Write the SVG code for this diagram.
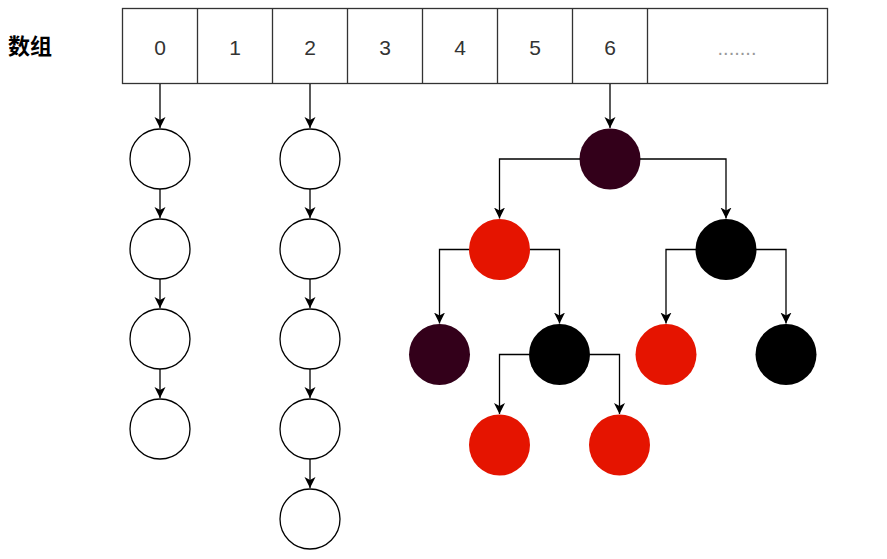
<svg xmlns="http://www.w3.org/2000/svg" width="887" height="559" viewBox="0 0 887 559">
<style>
.cell{fill:#ffffff;stroke:#333333;stroke-width:1.3}
.idx{font-family:"Liberation Sans",Arial,sans-serif;font-size:21px;fill:#333333;text-anchor:middle}
.lbl{font-family:"Liberation Sans","Noto Sans CJK SC",sans-serif;font-size:22px;font-weight:bold;fill:#000000}
.empty{fill:#ffffff;stroke:#000000;stroke-width:1.3}
.maroon{fill:#33001a;stroke:none}
.red{fill:#e51400;stroke:none}
.black{fill:#000000;stroke:none}
.edge{fill:none;stroke:#000000;stroke-width:1.3;marker-end:url(#arr)}
</style>
<defs>
<marker id="arr" markerUnits="userSpaceOnUse" markerWidth="13" markerHeight="13" refX="11" refY="5.5" orient="auto" viewBox="0 0 13 11">
<path d="M0,0 L11,5.5 L0,11 L3,5.5 Z" fill="#000000"/>
</marker>
</defs>
<rect width="887" height="559" fill="#ffffff"/>
<g id="label"><text class="lbl" x="8" y="54">数组</text></g>
<g id="array">
<rect class="cell" x="122.5" y="8.5" width="705" height="75"/>
<path d="M197.5,8.5V83.5M272.5,8.5V83.5M347.5,8.5V83.5M422.5,8.5V83.5M497.5,8.5V83.5M572.5,8.5V83.5M647.5,8.5V83.5" stroke="#333333" stroke-width="1.3" fill="none"/>
<text class="idx" x="160" y="55">0</text>
<text class="idx" x="235" y="55">1</text>
<text class="idx" x="310" y="55">2</text>
<text class="idx" x="385" y="55">3</text>
<text class="idx" x="460" y="55">4</text>
<text class="idx" x="535" y="55">5</text>
<text class="idx" x="610" y="55">6</text>
<text class="idx" x="737" y="55" style="font-size:20px;fill:#999999">.......</text>
</g>
<g id="list0">
<circle class="empty" cx="160" cy="159" r="30"/>
<circle class="empty" cx="160" cy="249" r="30"/>
<circle class="empty" cx="160" cy="339" r="30"/>
<circle class="empty" cx="160" cy="429" r="30"/>
</g>
<g id="list2">
<circle class="empty" cx="310" cy="159" r="30"/>
<circle class="empty" cx="310" cy="249" r="30"/>
<circle class="empty" cx="310" cy="339" r="30"/>
<circle class="empty" cx="310" cy="429" r="30"/>
<circle class="empty" cx="310" cy="519" r="30"/>
</g>
<g id="tree">
<circle id="root" class="maroon" cx="610" cy="159" r="30.5"/>
<circle id="n1" class="red" cx="499.5" cy="249.5" r="30.5"/>
<circle id="n2" class="black" cx="726" cy="249.5" r="30.5"/>
<circle id="n3" class="maroon" cx="439.5" cy="354.5" r="30.5"/>
<circle id="n4" class="black" cx="559.5" cy="354.5" r="30.5"/>
<circle id="n5" class="red" cx="666" cy="354.5" r="30.5"/>
<circle id="n6" class="black" cx="786" cy="354.5" r="30.5"/>
<circle id="n7" class="red" cx="499.5" cy="445" r="30.5"/>
<circle id="n8" class="red" cx="619.5" cy="445" r="30.5"/>
</g>
<g id="connectors">
<path class="edge" d="M160,84V128"/>
<path class="edge" d="M310,84V128"/>
<path class="edge" d="M610,84V128"/>
<path class="edge" d="M160,189V218"/>
<path class="edge" d="M160,279V308"/>
<path class="edge" d="M160,369V398"/>
<path class="edge" d="M310,189V218"/>
<path class="edge" d="M310,279V308"/>
<path class="edge" d="M310,369V398"/>
<path class="edge" d="M310,459V488"/>
<path class="edge" d="M580,159H499.5V218.5"/>
<path class="edge" d="M640,159H726V218.5"/>
<path class="edge" d="M469,249.5H439.5V323.5"/>
<path class="edge" d="M530,249.5H559.5V323.5"/>
<path class="edge" d="M696,249.5H666V323.5"/>
<path class="edge" d="M756,249.5H786V323.5"/>
<path class="edge" d="M529,354.5H499.5V414"/>
<path class="edge" d="M590,354.5H619.5V414"/>
</g>
</svg>
